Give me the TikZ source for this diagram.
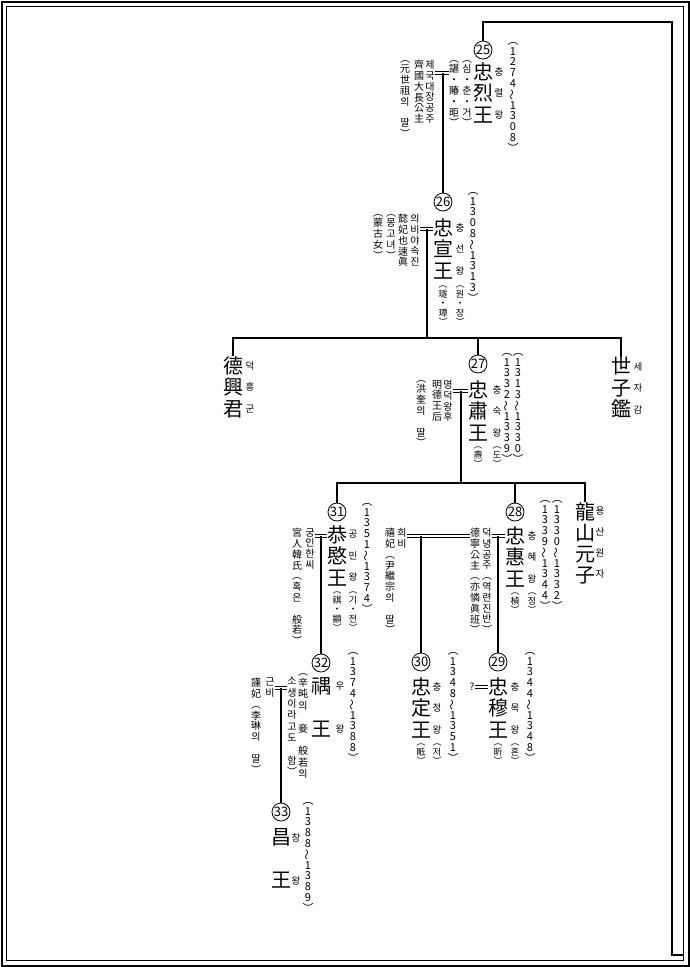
\documentclass[tikz,border=0pt]{standalone}
\usepackage{fontspec}
\setmainfont{Noto Sans CJK KR}
\usepackage{graphicx}
\usetikzlibrary{positioning,calc}

% stack the characters of a text one under another
\ExplSyntaxOn
\tl_new:N \l_vs_stack_tl
\bool_new:N \l_vs_first_bool
\NewDocumentCommand \vs { m }
  {
    \tl_clear:N \l_vs_stack_tl
    \bool_set_true:N \l_vs_first_bool
    \tl_map_inline:nn {#1}
      {
        \bool_if:NTF \l_vs_first_bool
          { \bool_set_false:N \l_vs_first_bool }
          { \tl_put_right:Nn \l_vs_stack_tl { \\ } }
        \tl_put_right:Nn \l_vs_stack_tl {##1}
      }
    \tl_use:N \l_vs_stack_tl
  }
\ExplSyntaxOff
\newcommand\wv{\rotatebox[origin=c]{90}{～}}

\begin{document}
\begin{tikzpicture}[x=1pt,y=-1pt,
  kg/.style={anchor=north,align=center,inner sep=0pt,font=\fontsize{20}{21.5}\selectfont},
  rd/.style={anchor=north,align=center,inner sep=0pt,font=\fontsize{9.5}{21.5}\selectfont},
  sm/.style={anchor=north,align=center,inner sep=0pt,font=\fontsize{10}{10.8}\selectfont},
  pr/.style={anchor=north,align=center,inner sep=0pt,font=\fontsize{9}{9.5}\selectfont},
  yr/.style={anchor=north,align=center,inner sep=0pt,font=\fontsize{11}{10.8}\selectfont},
  num/.style={circle,draw,line width=0.8pt,inner sep=0pt,minimum size=18pt,font=\fontsize{13}{13}\selectfont},
  ln/.style={line width=1.1pt},
  wed/.style={double,double distance=2.2pt,line width=0.8pt}]
\useasboundingbox (0,0) rectangle (690,967);
\fill[white] (0,0) rectangle (690,967);
\draw[line width=2pt] (1.5,1.5) rectangle (688.5,965.5);
\draw[line width=1pt] (6.5,6.5) rectangle (683.5,960.5);

% 25
\node[num] (n25) at (483,50) {25};
\node[kg] (k25) at (483,62) {\vs{忠烈王}};
\node[rd] (r25) at (499,67) {\vs{충렬왕}};
\node[yr] (y25) at (513,42) {\vs{︵1274\wv1308︶}};
\node[sm] (a25) at (467,60) {\vs{︵심・춘・거︶}};
\node[sm] (b25) at (454,60) {\vs{︵諶・賰・昛︶}};
\node[sm] (s25) at (430,60) {\vs{제국대장공주}};
\node[sm] (t25) at (419,60) {\vs{齊國大長公主}};
\node[sm] (u25) at (405,60) {\vs{︵元世祖의{}딸︶}};
\coordinate (w25) at (443,73);
\coordinate (tl) at (483,22);
\coordinate (tr) at (672,22);
\coordinate (br) at (672,955);
\coordinate (be) at (683.5,955);

% 26
\node[num] (n26) at (443,202) {26};
\node[kg] (k26) at (443,218) {\vs{忠宣王}};
\node[pr] (p26) at (443,286) {\vs{︵璲・璋︶}};
\node[rd] (r26) at (460,223) {\vs{충선왕}};
\node[pr] (q26) at (460,286) {\vs{︵원・장︶}};
\node[yr] (y26) at (473,192) {\vs{︵1308\wv1313︶}};
\node[sm] (s26) at (415,214) {\vs{의비야속진}};
\node[sm] (t26) at (403,214) {\vs{懿妃也速眞}};
\node[sm] (u26) at (391,214) {\vs{︵몽고녀︶}};
\node[sm] (v26) at (378,214) {\vs{︵蒙古女︶}};
\coordinate (w26) at (427,229);
\coordinate (c1a) at (233,338);
\coordinate (c1b) at (621,338);

% 27 and his brothers
\node[kg] (dh) at (233,356) {\vs{德興君}};
\node[rd] (dhr) at (250,361) {\vs{덕흥군}};
\node[kg] (sj) at (621,357) {\vs{世子鑑}};
\node[rd] (sjr) at (638,362) {\vs{세자감}};
\node[num] (n27) at (478,364) {27};
\node[kg] (k27) at (478,380) {\vs{忠肅王}};
\node[pr] (p27) at (478,447) {\vs{︵燾︶}};
\node[rd] (r27) at (497,385) {\vs{충숙왕}};
\node[pr] (q27) at (497,447) {\vs{︵도︶}};
\node[yr] (y27a) at (507,353) {\vs{︵1332\wv1339︶}};
\node[yr] (y27b) at (518,353) {\vs{︵1313\wv1330︶}};
\node[sm] (s27) at (448,380) {\vs{명덕왕후}};
\node[sm] (t27) at (437,380) {\vs{明德王后}};
\node[sm] (u27) at (421,380) {\vs{︵洪奎의{}딸︶}};
\coordinate (w27) at (461,391);
\coordinate (c2a) at (337,483);
\coordinate (c2b) at (585,483);

% 31
\node[num] (n31) at (337,512) {31};
\node[kg] (k31) at (337,525) {\vs{恭愍王}};
\node[pr] (p31) at (337,592) {\vs{︵祺・顓︶}};
\node[rd] (r31) at (353,530) {\vs{공민왕}};
\node[pr] (q31) at (353,592) {\vs{︵기・전︶}};
\node[yr] (y31) at (367,503) {\vs{︵1351\wv1374︶}};
\node[sm] (s31) at (310,528) {\vs{궁인한씨}};
\node[sm] (t31) at (297,528) {\vs{宮人韓氏︵혹은{}般若︶}};
\coordinate (w31) at (321,536);

% 28
\node[num] (n28) at (515,512) {28};
\node[kg] (k28) at (515,526) {\vs{忠惠王}};
\node[pr] (p28) at (515,593) {\vs{︵楨︶}};
\node[rd] (r28) at (532,531) {\vs{충혜왕}};
\node[pr] (q28) at (532,593) {\vs{︵정︶}};
\node[yr] (y28a) at (545,500) {\vs{︵1339\wv1344︶}};
\node[yr] (y28b) at (557,500) {\vs{︵1330\wv1332︶}};
\node[sm] (s28) at (487,528) {\vs{덕녕공주︵역련진반︶}};
\node[sm] (t28) at (475,528) {\vs{德寧公主︵亦憐眞班︶}};
\node[sm] (s28b) at (402,528) {\vs{희비}};
\node[sm] (t28b) at (390,528) {\vs{禧妃︵尹繼宗의{}딸︶}};
\coordinate (w28) at (498,536);
\coordinate (w28b) at (421,536);

% 龍山元子
\node[kg,font=\fontsize{20}{21}\selectfont] (ys) at (585,502) {\vs{龍山元子}};
\node[rd,font=\fontsize{9.5}{21}\selectfont] (ysr) at (600,507) {\vs{용산원자}};

% 32
\node[num] (n32) at (321,663) {32};
\node[kg] (k32) at (321,677) {\vs{禑{}王}};
\node[rd] (r32) at (340,682) {\vs{우{}왕}};
\node[yr] (y32) at (353,652) {\vs{︵1374\wv1388︶}};
\node[sm,font=\fontsize{10}{11.4}\selectfont] (nt32a) at (303,673) {\vs{︵辛旽의{}妾{}般若의}};
\node[sm,font=\fontsize{10}{11.4}\selectfont] (nt32b) at (292,673) {\vs{{}소생이라고도{}함︶}};
\node[sm] (s32) at (270,678) {\vs{근비}};
\node[sm] (t32) at (256,678) {\vs{謹妃︵李琳의{}딸︶}};
\coordinate (w32) at (281,688);

% 30
\node[num] (n30) at (421,662) {30};
\node[kg] (k30) at (421,677) {\vs{忠定王}};
\node[pr] (p30) at (421,744) {\vs{︵眡︶}};
\node[rd] (r30) at (437,682) {\vs{충정왕}};
\node[pr] (q30) at (437,744) {\vs{︵저︶}};
\node[yr] (y30) at (453,652) {\vs{︵1348\wv1351︶}};

% 29
\node[num] (n29) at (498,662) {29};
\node[kg] (k29) at (498,677) {\vs{忠穆王}};
\node[pr] (p29) at (498,744) {\vs{︵昕︶}};
\node[rd] (r29) at (515,682) {\vs{충목왕}};
\node[pr] (q29) at (515,744) {\vs{︵흔︶}};
\node[yr] (y29) at (530,652) {\vs{︵1344\wv1348︶}};
\node[sm,anchor=center] (s29) at (472,687) {?};
\coordinate (w29) at (485,687);

% 33
\node[num] (n33) at (281,812) {33};
\node[kg] (k33) at (281,828) {\vs{昌{}王}};
\node[rd] (r33) at (296,833) {\vs{창{}왕}};
\node[yr] (y33) at (308,802) {\vs{︵1388\wv1389︶}};

% lines
\draw[ln] (n25) -- (n25|-tl) -- (tr) -- (br) -- (be);
\draw[wed] (s25.east|-w25) -- (b25.west|-w25);
\draw[ln] (w25) -- (n26);
\draw[wed] (s26.east|-w26) -- (k26.west|-w26);
\draw[ln] (w26) -- (w26|-c1a);
\draw[ln] (dh.north) -- (c1a) -- (c1b) -- (sj.north);
\draw[ln] (n27) -- (n27|-c1a);
\draw[wed] (s27.east|-w27) -- (k27.west|-w27);
\draw[ln] (w27) -- (w27|-c2a);
\draw[ln] (n31) -- (c2a) -- (c2b) -- (ys.north);
\draw[ln] (n28) -- (n28|-c2a);
\draw[wed] (s31.east|-w31) -- (k31.west|-w31);
\draw[ln] (w31) -- (n32);
\draw[wed] (s28.east|-w28) -- (k28.west|-w28);
\draw[wed] (s28b.east|-w28b) -- (t28.west|-w28b);
\draw[ln] (w28) -- (n29);
\draw[ln] (w28b) -- (n30);
\draw[wed] (s32.east|-w32) -- (nt32b.west|-w32);
\draw[ln] (w32) -- (n33);
\draw[wed] (s29.east|-w29) -- (k29.west|-w29);
\end{tikzpicture}
\end{document}
